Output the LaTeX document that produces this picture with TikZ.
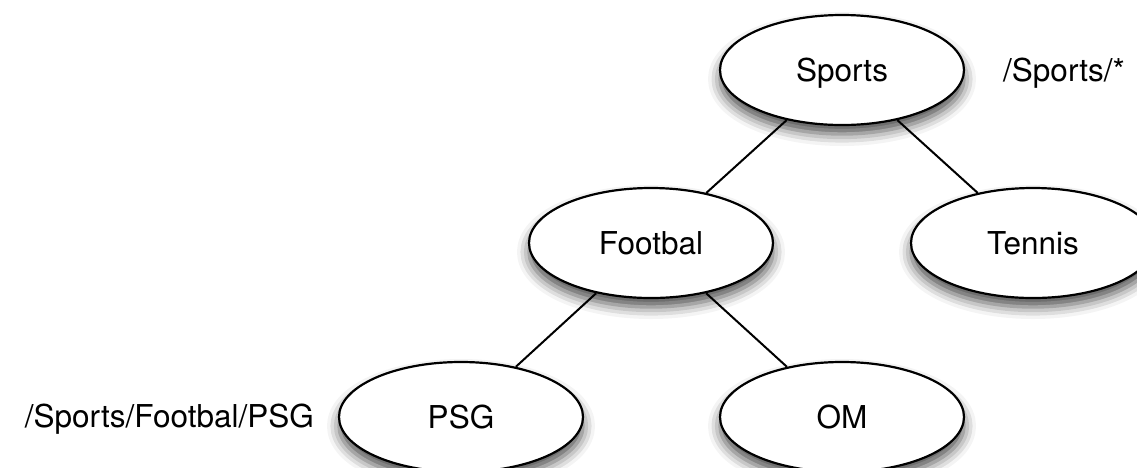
\documentclass[tikz,border=0pt]{standalone}
\usepackage{fontspec}
\setmainfont{TeX Gyre Heros}
\usetikzlibrary{shapes.geometric,shadows.blur}
\tikzset{
  topic/.style={ellipse, draw=black, line width=2.2pt, fill=white,
    minimum width=244pt, minimum height=110pt, inner sep=0pt,
    font=\fontsize{31.5}{38}\selectfont, text height=22.6pt, text depth=0pt,
    blur shadow={shadow xshift=0pt, shadow yshift=-9pt,
      shadow blur radius=12pt, shadow opacity=70}},
  link/.style={line width=2pt, black},
  pathlabel/.style={font=\fontsize{31.5}{38}\selectfont, inner sep=0pt,
    text height=22.6pt, text depth=0pt}
}
\begin{document}
\begin{tikzpicture}[x=1pt,y=-1pt]
  \useasboundingbox (0,0) rectangle (1137,467);
  \clip (0,0) rectangle (1137,467);

  % topic tree
  \node[topic] (sports)  at (842,70)  {Sports};
  \node[topic] (footbal) at (651,243) {Footbal};
  \node[topic] (tennis)  at (1033,243) {Tennis};
  \node[topic] (psg)     at (461,417) {PSG};
  \node[topic] (om)      at (842,417) {OM};

  % edges
  \draw[link] (sports) -- (footbal);
  \draw[link] (sports) -- (tennis);
  \draw[link] (footbal) -- (psg);
  \draw[link] (footbal) -- (om);

  % subscription paths
  \node[pathlabel, anchor=west] (wild) at (1003,70) {/Sports/*};
  \node[pathlabel, anchor=east] (full) at (314,416) {/Sports/Footbal/PSG};
\end{tikzpicture}
\end{document}
